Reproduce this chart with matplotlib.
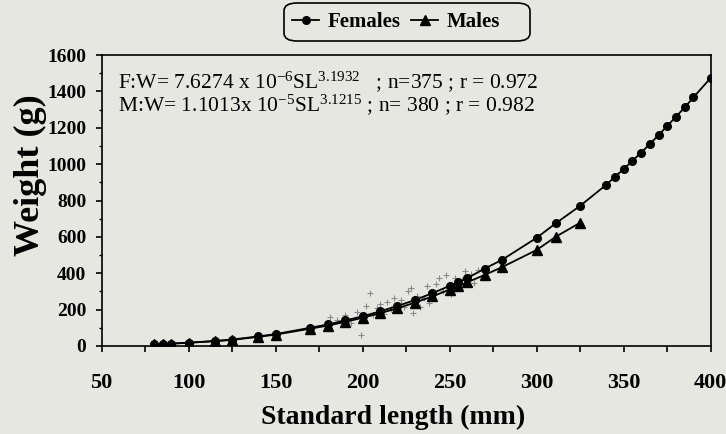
#!/usr/bin/env python3
"""Length-weight relationship for females and males (standard length vs weight)."""

import matplotlib

matplotlib.use("Agg")
import matplotlib.pyplot as plt
from matplotlib.patches import FancyBboxPatch
from matplotlib.ticker import MultipleLocator

# fitted curve points, females
female_sl = [80, 85, 90, 100, 115, 125, 140, 150, 170, 180, 190, 200, 210, 220,
             230, 240, 250, 255, 260, 270, 280, 300, 311, 325, 340, 345, 350,
             355, 360, 365, 370, 375, 380, 385, 390, 400]
female_w = [8, 10, 13, 18, 27, 35, 52, 65, 100, 118, 140, 163, 190, 220,
            252, 290, 330, 350, 372, 425, 473, 595, 675, 771, 887, 931, 973,
            1019, 1063, 1111, 1160, 1210, 1261, 1312, 1367, 1475]

# fitted curve points, males
male_sl = [80, 85, 90, 100, 115, 125, 140, 150, 170, 180, 190, 200, 210, 220,
           230, 240, 250, 255, 260, 270, 280, 300, 311, 325]
male_w = [8, 10, 12, 17, 26, 33, 50, 62, 95, 112, 132, 155, 180, 207,
          238, 272, 310, 328, 350, 390, 433, 528, 601, 678]

# observed individuals (faint crosses around the curves)
obs_sl = [181, 185, 190, 193, 197, 199, 202, 204, 206, 208, 210, 212, 214, 216,
          218, 219, 222, 224, 226, 228, 229, 231, 233, 235, 237, 238, 240, 242,
          244, 246, 248, 249, 251, 253, 255, 257, 259, 262, 264, 266]
obs_w = [161, 140, 170, 128, 188, 60, 220, 290, 170, 210, 232, 175, 240, 205,
         262, 226, 250, 215, 300, 317, 180, 275, 216, 262, 330, 235, 290, 340,
         372, 300, 390, 330, 285, 375, 320, 360, 410, 395, 345, 420]

x_ticks = [50, 100, 150, 200, 250, 300, 350, 400]
y_ticks = [0, 200, 400, 600, 800, 1000, 1200, 1400, 1600]

eq_female = r"F:W= 7.6274 x 10$^{-6}$SL$^{3.1932}$   ; n=375 ; r = 0.972"
eq_male = r"M:W= 1.1013x 10$^{-5}$SL$^{3.1215}$ ; n= 380 ; r = 0.982"

BG = "#e7e7e2"
SERIF = ["Liberation Serif", "DejaVu Serif"]
W, H = 726, 434

plt.rcParams["font.family"] = SERIF
plt.rcParams["mathtext.fontset"] = "custom"
plt.rcParams["mathtext.rm"] = "Liberation Serif"
plt.rcParams["mathtext.default"] = "regular"

fig = plt.figure(figsize=(W / 100, H / 100), dpi=100, facecolor=BG)
ax = fig.add_axes([0.140, 0.203, 0.839, 0.670], facecolor=BG)

ax.plot(obs_sl, obs_w, linestyle="none", marker="+", markersize=5,
        markeredgewidth=0.8, color="#8a8a8a", zorder=1)
ax.plot(female_sl, female_w, color="black", linewidth=1.3, marker="o",
        markersize=5.5, label="Females", zorder=3)
ax.plot(male_sl, male_w, color="black", linewidth=1.3, marker="^",
        markersize=6.5, label="Males", zorder=3)

ax.set_xlim(50, 400)
ax.set_ylim(0, 1600)
ax.set_xticks(x_ticks)
ax.set_yticks(y_ticks)
ax.xaxis.set_minor_locator(MultipleLocator(25))
ax.yaxis.set_minor_locator(MultipleLocator(100))
ax.tick_params(axis="x", which="both", direction="out", length=4.5, width=1.2,
               pad=15, labelsize=16)
ax.tick_params(axis="y", which="major", direction="out", length=4, width=1.2,
               pad=7, labelsize=14)
ax.tick_params(axis="y", which="minor", direction="out", length=2.5, width=1.0)
for label in ax.get_xticklabels() + ax.get_yticklabels():
    label.set_fontweight("bold")
for spine in ax.spines.values():
    spine.set_linewidth(1.2)

fig.text(393 / W, 1 - 417 / H, "Standard length (mm)", fontsize=20,
         fontweight="bold", ha="center", va="center")
fig.text(30 / W, 1 - 175 / H, "Weight (g)", fontsize=26, fontweight="bold",
         ha="center", va="center", rotation=90)

ax.text(0.027, 0.910, eq_female, transform=ax.transAxes, fontsize=15.5,
        va="center", ha="left")
ax.text(0.027, 0.829, eq_male, transform=ax.transAxes, fontsize=15.5,
        va="center", ha="left")

# legend entries without frame, rounded box drawn around them
fig.legend(loc="center", bbox_to_anchor=(396 / W, 1 - 22 / H), ncol=2,
           frameon=False, handlelength=1.3, columnspacing=0.5,
           handletextpad=0.4, borderpad=0.0,
           prop={"family": SERIF, "weight": "bold", "size": 15})
fig.patches.append(FancyBboxPatch((284 / W, 1 - 41 / H), 246 / W, 38 / H,
                                  boxstyle="round,pad=0,rounding_size=0.018",
                                  transform=fig.transFigure, facecolor="none",
                                  edgecolor="black", linewidth=1.2))

fig.savefig("out.png", dpi=100, facecolor=BG)
